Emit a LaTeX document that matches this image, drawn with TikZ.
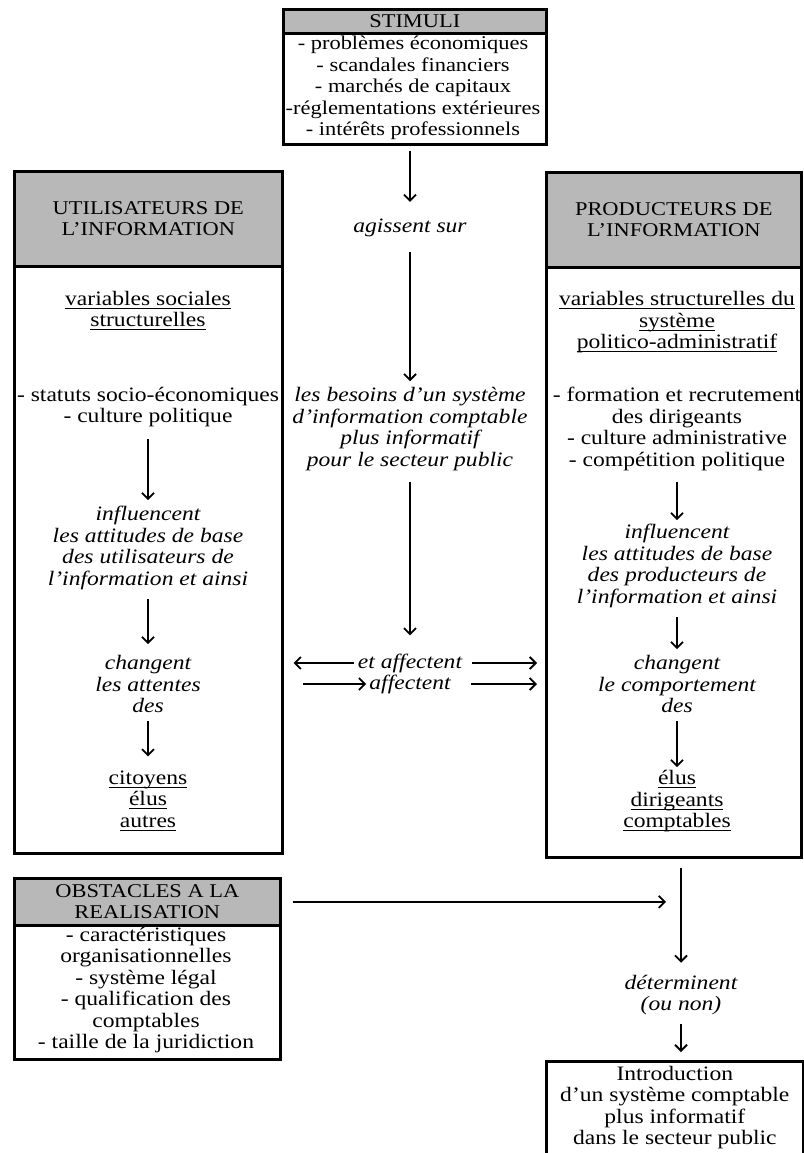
\documentclass[tikz,border=0pt]{standalone}
\usepackage{amsmath}
\usepackage{fontspec}
\setmainfont{Liberation Serif}[FakeStretch=1.15]
\usetikzlibrary{arrows.meta,positioning}
\newcommand\ulined[1]{\underline{\smash[b]{#1}}}
\tikzset{
    base text/.style={align=center, inner sep=0pt, font=\fontsize{20.5}{21.5}\selectfont},
    plain entry/.style={base text},
    verb entry/.style={base text, font=\fontsize{20.5}{21.5}\selectfont\itshape},
    frame box/.style={draw, line width=2.6pt, rectangle, anchor=north west, inner sep=0pt},
    head box/.style={frame box, fill=black!28, align=center, font=\fontsize{19.5}{21}\selectfont},
    flow/.style={->, line width=1.8pt}
}
\begin{document}
\begin{tikzpicture}[x=1pt, y=-1pt, >={Straight Barb[length=6pt, width=12pt, line width=1.8pt]}]
\useasboundingbox (0,0) rectangle (803,1153);
	% stimuli
	\node[frame box, minimum width=263, minimum height=135] (stim) at (282,8) {};
	\node[head box, minimum width=263, minimum height=24] (stimhdr) at (282,8) {STIMULI};
	\node[plain entry, font=\fontsize{19.5}{21.5}\selectfont] (stimlist) at (413,88) {- problèmes économiques\\- scandales financiers\\- marchés de capitaux\\-réglementations extérieures\\- intérêts professionnels};
	% utilisateurs
	\node[frame box, minimum width=268, minimum height=682] (users) at (13,170) {};
	\node[head box, minimum width=268, minimum height=95] (usershdr) at (13,170) {UTILISATEURS DE\\L'INFORMATION};
	\node[plain entry] (usrvars) at (148,311) {\ulined{variables sociales}\\\ulined{structurelles}};
	\node[plain entry] (usrlist) at (148,407) {- statuts socio-économiques\\- culture politique};
	\node[verb entry] (usrinf) at (148,548) {influencent\\les attitudes de base\\des utilisateurs de\\l'information et ainsi};
	\node[verb entry] (usrchg) at (148,684) {changent\\les attentes\\des};
	\node[plain entry] (usrwho) at (148,801) {\ulined{citoyens}\\\ulined{élus}\\\ulined{autres}};
	% producteurs
	\node[frame box, minimum width=255, minimum height=685] (prod) at (545,171) {};
	\node[head box, minimum width=255, minimum height=95] (prodhdr) at (545,171) {PRODUCTEURS DE\\L'INFORMATION};
	\node[plain entry] (prdvars) at (677,322) {\ulined{variables structurelles du}\\\ulined{système}\\\ulined{politico-administratif}};
	\node[plain entry] (prdlist) at (677,429) {- formation et recrutement\\des dirigeants\\- culture administrative\\- compétition politique};
	\node[verb entry] (prdinf) at (677,566) {influencent\\les attitudes de base\\des producteurs de\\l'information et ainsi};
	\node[verb entry] (prdchg) at (677,684) {changent\\le comportement\\des};
	\node[plain entry] (prdwho) at (677,801) {\ulined{élus}\\\ulined{dirigeants}\\\ulined{comptables}};
	% milieu
	\node[verb entry] (acts) at (410,228) {agissent sur};
	\node[verb entry] (needs) at (410,429) {les besoins d'un système\\d'information comptable\\plus informatif\\pour le secteur public};
	\node[verb entry] (affa) at (410,663) {et affectent};
	\node[verb entry] (affb) at (410,684) {affectent};
	% obstacles
	\node[frame box, minimum width=266, minimum height=181] (obst) at (13,877) {};
	\node[head box, minimum width=266, minimum height=47] (obsthdr) at (13,877) {OBSTACLES A LA\\REALISATION};
	\node[plain entry] (obstlist) at (146,990) {- caractéristiques\\organisationnelles\\- système légal\\- qualification des\\comptables\\- taille de la juridiction};
	\node[verb entry] (det) at (681,995) {déterminent\\(ou non)};
	\node[frame box, plain entry, minimum width=257, minimum height=93] (intro) at (545,1060) {Introduction\\d'un système comptable\\plus informatif\\dans le secteur public};
	% fleches
	\draw[flow, shorten <=5pt, shorten >=17pt] (acts |- stim.south) -- (acts);
	\draw[flow, shorten <=15pt, shorten >=6pt] (acts) -- (needs);
	\draw[flow, shorten <=11pt, shorten >=18pt] (needs) -- (affa);
	\draw[flow, shorten <=12pt, shorten >=6pt] (usrlist) -- (usrinf);
	\draw[flow, shorten <=9pt, shorten >=11pt] (usrinf) -- (usrchg);
	\draw[flow, shorten <=8pt, shorten >=14pt] (usrchg) -- (usrwho);
	\draw[flow, shorten <=11pt, shorten >=4pt] (prdlist) -- (prdinf);
	\draw[flow, shorten <=9pt, shorten >=6pt] (prdinf) -- (prdchg);
	\draw[flow, shorten <=8pt, shorten >=3pt] (prdchg) -- (prdwho);
	\draw[flow, shorten <=4pt, shorten >=10pt] (affa.west) -- (affa -| users.east);
	\draw[flow, shorten <=10pt, shorten >=8pt] (affa.east) -- (affa -| prod.west);
	\draw[flow, shorten <=19pt, shorten >=3pt] (affb -| users.east) -- (affb.west);
	\draw[flow, shorten <=20pt, shorten >=8pt] (affb.east) -- (affb -| prod.west);
	\draw[flow, shorten <=11pt, shorten >=15pt] (obsthdr.east) -- (obsthdr -| det);
	\draw[flow, shorten <=9pt, shorten >=12pt] (det |- prod.south) -- (det);
	\draw[flow, shorten <=9pt, shorten >=8pt] (det) -- (intro.north -| det);
\end{tikzpicture}
\end{document}
